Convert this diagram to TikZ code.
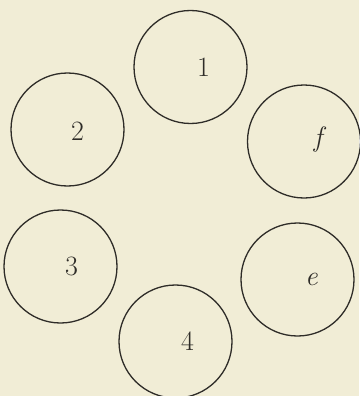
\documentclass[tikz,border=0pt]{standalone}
\usepackage{fontspec}
\usepackage{tikz}
\usetikzlibrary{positioning}
\definecolor{paper}{HTML}{F1EDD6}
\definecolor{ink}{HTML}{2E2C28}

\begin{document}
\begin{tikzpicture}[x=1pt, y=-1pt,
  ring/.style={draw=ink, line width=1.3pt, circle, minimum size=113pt, inner sep=0pt},
  lab/.style={text=ink, font=\fontsize{28}{32}\selectfont}]

  \fill[paper] (0,0) rectangle (359,396);
  \useasboundingbox (0,0) rectangle (359,396);

  \node[ring, label={[lab, xshift=13pt]center:1}] (c1) at (190.5,67) {};
  \node[ring, label={[lab, xshift=10pt, yshift=-2pt]center:2}] (c2) at (67.5,129.5) {};
  \node[ring, label={[lab, xshift=14pt, yshift=2pt]center:\itshape f}] (cf) at (304,141.5) {};
  \node[ring, label={[lab, xshift=11pt]center:3}] (c3) at (60.5,266.5) {};
  \node[ring, label={[lab, xshift=14pt]center:\itshape e}] (ce) at (297.5,279.5) {};
  \node[ring, label={[lab, xshift=12pt]center:4}] (c4) at (175.5,341.5) {};
\end{tikzpicture}
\end{document}
